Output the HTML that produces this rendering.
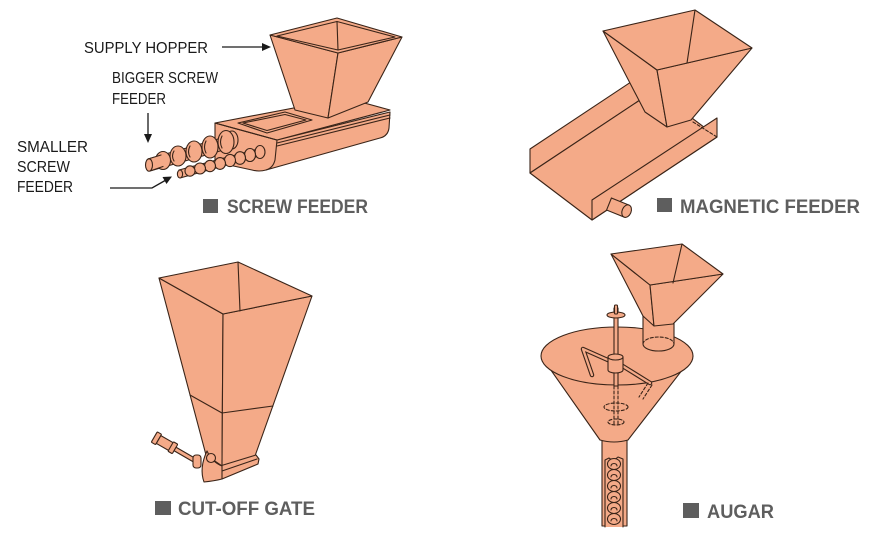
<!DOCTYPE html>
<html><head><meta charset="utf-8"><style>
html,body{margin:0;padding:0;background:#fff;}
svg{display:block}
</style></head><body>
<svg width="875" height="553" viewBox="0 0 875 553" xmlns="http://www.w3.org/2000/svg">
<rect width="875" height="553" fill="#fff"/>
<g fill="#F4AA88" stroke="#3a2418" stroke-width="1.1" stroke-linejoin="round" stroke-linecap="round">

<!-- ===== SCREW FEEDER ===== -->
<path d="M215,123 L277,140 L390,112 L389,128 Q388,136 380,138 L266,170 Q259,172 252,170 L215,162 Z"/>
<path d="M277,140 L275,160 Q273,168 266,170" fill="none"/>
<polygon points="215,123 346,98 390,110 277,140"/>
<path d="M277,143 L390,115 M277,146 L390,118" fill="none"/>
<path d="M215,123 L277,140" fill="none"/>
<polygon points="238,123 285,112 312,120 267,133"/>
<polygon points="243,123 285,114.5 306,120 267,130.5" fill="none"/>
<!-- hopper -->
<polygon points="270,35 338,53 328,118 295,110"/>
<polygon points="338,53 402,37 368,102 328,118"/>
<polygon points="270,35 337,18 402,37 338,53"/>
<polygon points="277,36 337,21.5 395,37 338,50" fill="none"/>
<path d="M337,21.5 L338,50" fill="none"/>

<!-- bigger screw -->
<g>
<polygon points="148,159 232,135 234,147 150,171"/>
<ellipse cx="232" cy="140" rx="6" ry="9"/>
<ellipse cx="226" cy="142" rx="8" ry="11.5"/>
<path d="M222,136 q-3,6 0,12" fill="none"/>
<ellipse cx="210" cy="147" rx="8" ry="11"/>
<path d="M206,141 q-3,6 0,12" fill="none"/>
<ellipse cx="194" cy="151.5" rx="8" ry="10.5"/>
<path d="M190,146 q-3,6 0,11" fill="none"/>
<ellipse cx="178" cy="156" rx="8" ry="10"/>
<path d="M174,151 q-3,5 0,10" fill="none"/>
<ellipse cx="163" cy="160.5" rx="7.5" ry="9"/>
<polygon points="148,159 161,155 163,166.5 150,171" stroke="none"/>
<path d="M148,159 L161,155 M150,171 L163,166.5" fill="none"/>
<ellipse cx="149" cy="165" rx="3.5" ry="6.2"/>
</g>
<!-- smaller screw -->
<g>
<polygon points="179,170 262,148 263,155 180,178"/>
<ellipse cx="260" cy="152" rx="5" ry="6.5"/>
<ellipse cx="250" cy="155" rx="5.5" ry="6.5"/>
<ellipse cx="240" cy="158" rx="5.5" ry="6.3"/>
<ellipse cx="230" cy="160.5" rx="5.5" ry="6.1"/>
<ellipse cx="220" cy="163.5" rx="5.5" ry="5.9"/>
<ellipse cx="210" cy="166" rx="5.5" ry="5.7"/>
<ellipse cx="200" cy="168.5" rx="5.5" ry="5.5"/>
<ellipse cx="190" cy="171" rx="5" ry="5.2"/>
<ellipse cx="180" cy="174" rx="2.6" ry="4"/>
</g>

<!-- ===== MAGNETIC FEEDER ===== -->
<polygon points="530,149 655,66 655,90 530,173"/>
<polygon points="530,173 655,90 717,137 592,220"/>
<polygon points="603,31 657,70 667,127 645,112"/>
<polygon points="657,70 752,48 691,120 667,127"/>
<polygon points="603,31 695,10 752,48 657,70"/>
<path d="M695,10 L687,63" fill="none"/>
<polygon points="592,200 717,118 717,137 592,220"/>
<path d="M693,122 L717,137" fill="none" stroke-dasharray="3,2"/>
<g transform="translate(609,204) rotate(22)">
<rect x="0" y="-6.5" width="19" height="13"/>
<ellipse cx="19" cy="0" rx="4.5" ry="6.5"/>
</g>

<!-- ===== CUT-OFF GATE ===== -->
<polygon points="159,278 223,314 222,466 206,455"/>
<polygon points="223,314 312,296 255,456 222,466"/>
<polygon points="159,278 238,262 312,296 223,314"/>
<path d="M238,262 L240,311" fill="none"/>
<path d="M190,395 L222,413 L273,406" fill="none"/>
<polygon points="220,466 256,455 259,459 258,464 222,479 212,479"/>
<path d="M222,471 L257,459" fill="none"/>
<path d="M207,451 Q199,468 204,482 Q214,481 222,479 L222,466 Q212,462 207,451 Z"/>
<g transform="translate(156,438) rotate(30)">
<rect x="-2" y="-6" width="5" height="12" rx="1"/>
<rect x="3" y="-4.5" width="16" height="9"/>
<rect x="17" y="-5.5" width="5" height="11" rx="1"/>
<rect x="22" y="-2" width="24" height="4"/>
</g>
<rect x="193" y="455" width="8" height="13" rx="3"/>
<circle cx="211" cy="458" r="4.5"/>

<!-- ===== AUGAR ===== -->
<rect x="602" y="436" width="25" height="90"/>
<path d="M605,527 L605,460 L609,458 L613,461 L618,457 L623,459 L623,527" />
<g>
<ellipse cx="614" cy="519" rx="6.5" ry="5.5"/>
<ellipse cx="614" cy="508" rx="6.5" ry="5.5"/>
<ellipse cx="614" cy="497" rx="6.5" ry="5.5"/>
<ellipse cx="614" cy="486" rx="6.5" ry="5.5"/>
<ellipse cx="614" cy="475" rx="6.5" ry="5.5"/>
<ellipse cx="614" cy="464" rx="6.5" ry="5.5"/>
<path d="M611,521 a3,2.5 0 1 1 6,0 M611,510 a3,2.5 0 1 1 6,0 M611,499 a3,2.5 0 1 1 6,0 M611,488 a3,2.5 0 1 1 6,0 M611,477 a3,2.5 0 1 1 6,0 M611,466 a3,2.5 0 1 1 6,0" fill="none"/>
</g>
<path d="M541,356 L600,440 Q614,444 628,440 L693,356 Z"/>
<ellipse cx="617" cy="356" rx="76" ry="29"/>
<!-- hopper pipe -->
<path d="M643,316 L643,344 A15.5,7 0 0 0 674,344 L674,316 Z"/>
<path d="M643,344 A15.5,7 0 0 1 674,344" fill="none" stroke-dasharray="3,2"/>
<!-- hopper -->
<polygon points="611,254 650,285 654,326 643,316"/>
<polygon points="650,285 723,274 673,324 654,326"/>
<polygon points="611,254 682,244 723,274 650,285"/>
<path d="M682,244 L673,283" fill="none"/>
<!-- shaft -->
<rect x="614" y="308" width="4" height="78"/>
<ellipse cx="616" cy="315" rx="9" ry="3"/>
<rect x="614.5" y="305" width="3" height="9" rx="1"/>
<!-- arms -->
<path d="M610,361 L583,349 L592,375" fill="none" stroke-width="4.5"/>
<path d="M610,361 L583,349 L592,375" fill="none" stroke="#F4AA88" stroke-width="2.3"/>
<path d="M621,365 L650,383" fill="none" stroke-width="4.5"/>
<path d="M621,365 L650,383" fill="none" stroke="#F4AA88" stroke-width="2.3"/>
<path d="M648,383 L639,397 M652,385 L643,399" fill="none" stroke-dasharray="3,2"/>
<!-- collar -->
<path d="M608,357 L608,370 A7.5,3 0 0 0 623,370 L623,357 Z"/>
<ellipse cx="615.5" cy="357" rx="7.5" ry="3"/>
<!-- dashed below -->
<path d="M614,386 L614,426 M618,386 L618,426" fill="none" stroke-dasharray="3,2"/>
<ellipse cx="616" cy="407" rx="12" ry="4" fill="none" stroke-dasharray="3,2"/>
<ellipse cx="616" cy="422" rx="8" ry="3" fill="none" stroke-dasharray="3,2"/>
</g>

<!-- arrows -->
<g stroke="#1a1a1a" stroke-width="1.3" fill="none">
<path d="M222,47 L264,47"/>
<path d="M148,113 L148,136"/>
<path d="M110,188 L152,188 L166,180"/>
</g>
<g fill="#1a1a1a">
<polygon points="271,47 262,43 262,51"/>
<polygon points="148,143 144,134 152,134"/>
<polygon points="172,176.5 162.5,177 166.5,184"/>
</g>

<!-- small labels -->
<g font-family="Liberation Sans, sans-serif" font-size="16" fill="#1a1a1a">
<text x="84" y="53" textLength="124" lengthAdjust="spacingAndGlyphs">SUPPLY HOPPER</text>
<text x="112" y="83" textLength="106" lengthAdjust="spacingAndGlyphs">BIGGER SCREW</text>
<text x="112" y="104" textLength="54" lengthAdjust="spacingAndGlyphs">FEEDER</text>
<text x="17" y="152" textLength="71" lengthAdjust="spacingAndGlyphs">SMALLER</text>
<text x="17" y="172" textLength="53" lengthAdjust="spacingAndGlyphs">SCREW</text>
<text x="17" y="192" textLength="56" lengthAdjust="spacingAndGlyphs">FEEDER</text>
</g>

<!-- section labels -->
<g fill="#5e5e5e">
<rect x="203" y="199" width="15" height="14"/>
<rect x="657" y="198" width="15" height="14"/>
<rect x="155" y="501" width="16" height="14"/>
<rect x="683" y="503" width="16" height="15"/>
</g>
<g font-family="Liberation Sans, sans-serif" font-size="19" font-weight="bold" fill="#5e5e5e">
<text x="227" y="213" textLength="141" lengthAdjust="spacingAndGlyphs">SCREW FEEDER</text>
<text x="680" y="213" textLength="180" lengthAdjust="spacingAndGlyphs">MAGNETIC FEEDER</text>
<text x="178" y="515" textLength="137" lengthAdjust="spacingAndGlyphs">CUT-OFF GATE</text>
<text x="707" y="518" textLength="67" lengthAdjust="spacingAndGlyphs">AUGAR</text>
</g>
</svg>
</body></html>
